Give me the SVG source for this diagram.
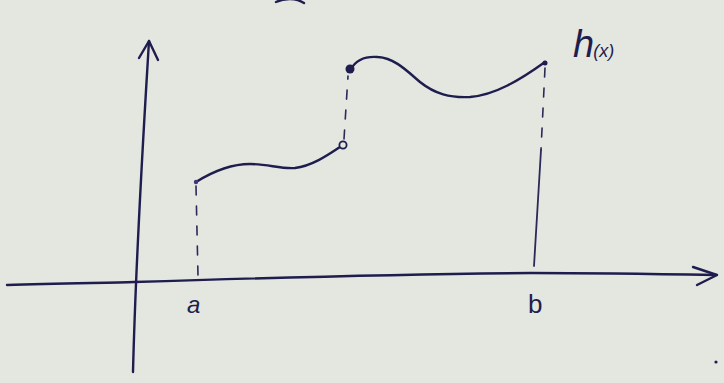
<svg xmlns="http://www.w3.org/2000/svg" width="724" height="383" viewBox="0 0 724 383">
<defs>
<style>
.ink{fill:none;stroke:#1e1d4e;stroke-width:2.4;stroke-linecap:round;stroke-linejoin:round}
.thin{fill:none;stroke:#2a2958;stroke-width:1.8;stroke-linecap:round}
.dash{fill:none;stroke:#2a2958;stroke-width:1.6;stroke-linecap:round;stroke-dasharray:9 11}
.lbl{font-family:"Liberation Sans",Arial,sans-serif;fill:#1e1d4e}
</style>
</defs>
<rect width="724" height="383" fill="#e4e6e0"/>
<g id="axes">
<path class="ink" d="M133,372 C136,250 143,140 149,41"/>
<path class="ink" d="M139,58 L149,41 L158,60"/>
<path class="ink" d="M7,285 C60,283 110,283 134,282 C260,278 420,274 531,273 C600,273 660,274 716,275"/>
<path class="ink" d="M693,267 L717,275 L697,285"/>
</g>
<g id="connectors">
<path class="dash" d="M196,186 L198,276"/>
<path class="dash" d="M344,139 L348,76"/>
<path class="dash" d="M545,68 L541,150"/>
<path class="thin" d="M541,150 L534,266"/>
</g>
<g id="curve-left">
<path class="ink" d="M196,182 C212,172 230,164 250,164 C268,164 280,169 295,168 C312,166 328,155 340,147"/>
<circle cx="343" cy="145" r="3.6" fill="#e4e6e0" stroke="#1e1d4e" stroke-width="1.8"/>
<circle cx="196" cy="182" r="2.2" fill="#3a3a78"/>
</g>
<g id="curve-right">
<path class="ink" d="M351,69 C356,60 366,56 378,57 C395,58 408,72 420,82 C435,94 450,98 470,97 C495,95 520,80 545,62"/>
<circle cx="350" cy="69" r="4.5" fill="#1e1d4e"/>
<circle cx="545" cy="63" r="2.5" fill="#1e1d4e"/>
</g>
<g id="labels">
<text class="lbl" x="187" y="313" font-size="24" font-style="italic">a</text>
<text class="lbl" x="528" y="313" font-size="26">b</text>
<text class="lbl" x="573" y="57" font-size="38" font-style="italic">h<tspan font-size="18" dx="-1">(x)</tspan></text>
</g>
<path class="ink" d="M276,2 C285,-2 296,-2 304,3"/>
<circle cx="716" cy="362" r="1.6" fill="#1e1d4e"/>
</svg>
